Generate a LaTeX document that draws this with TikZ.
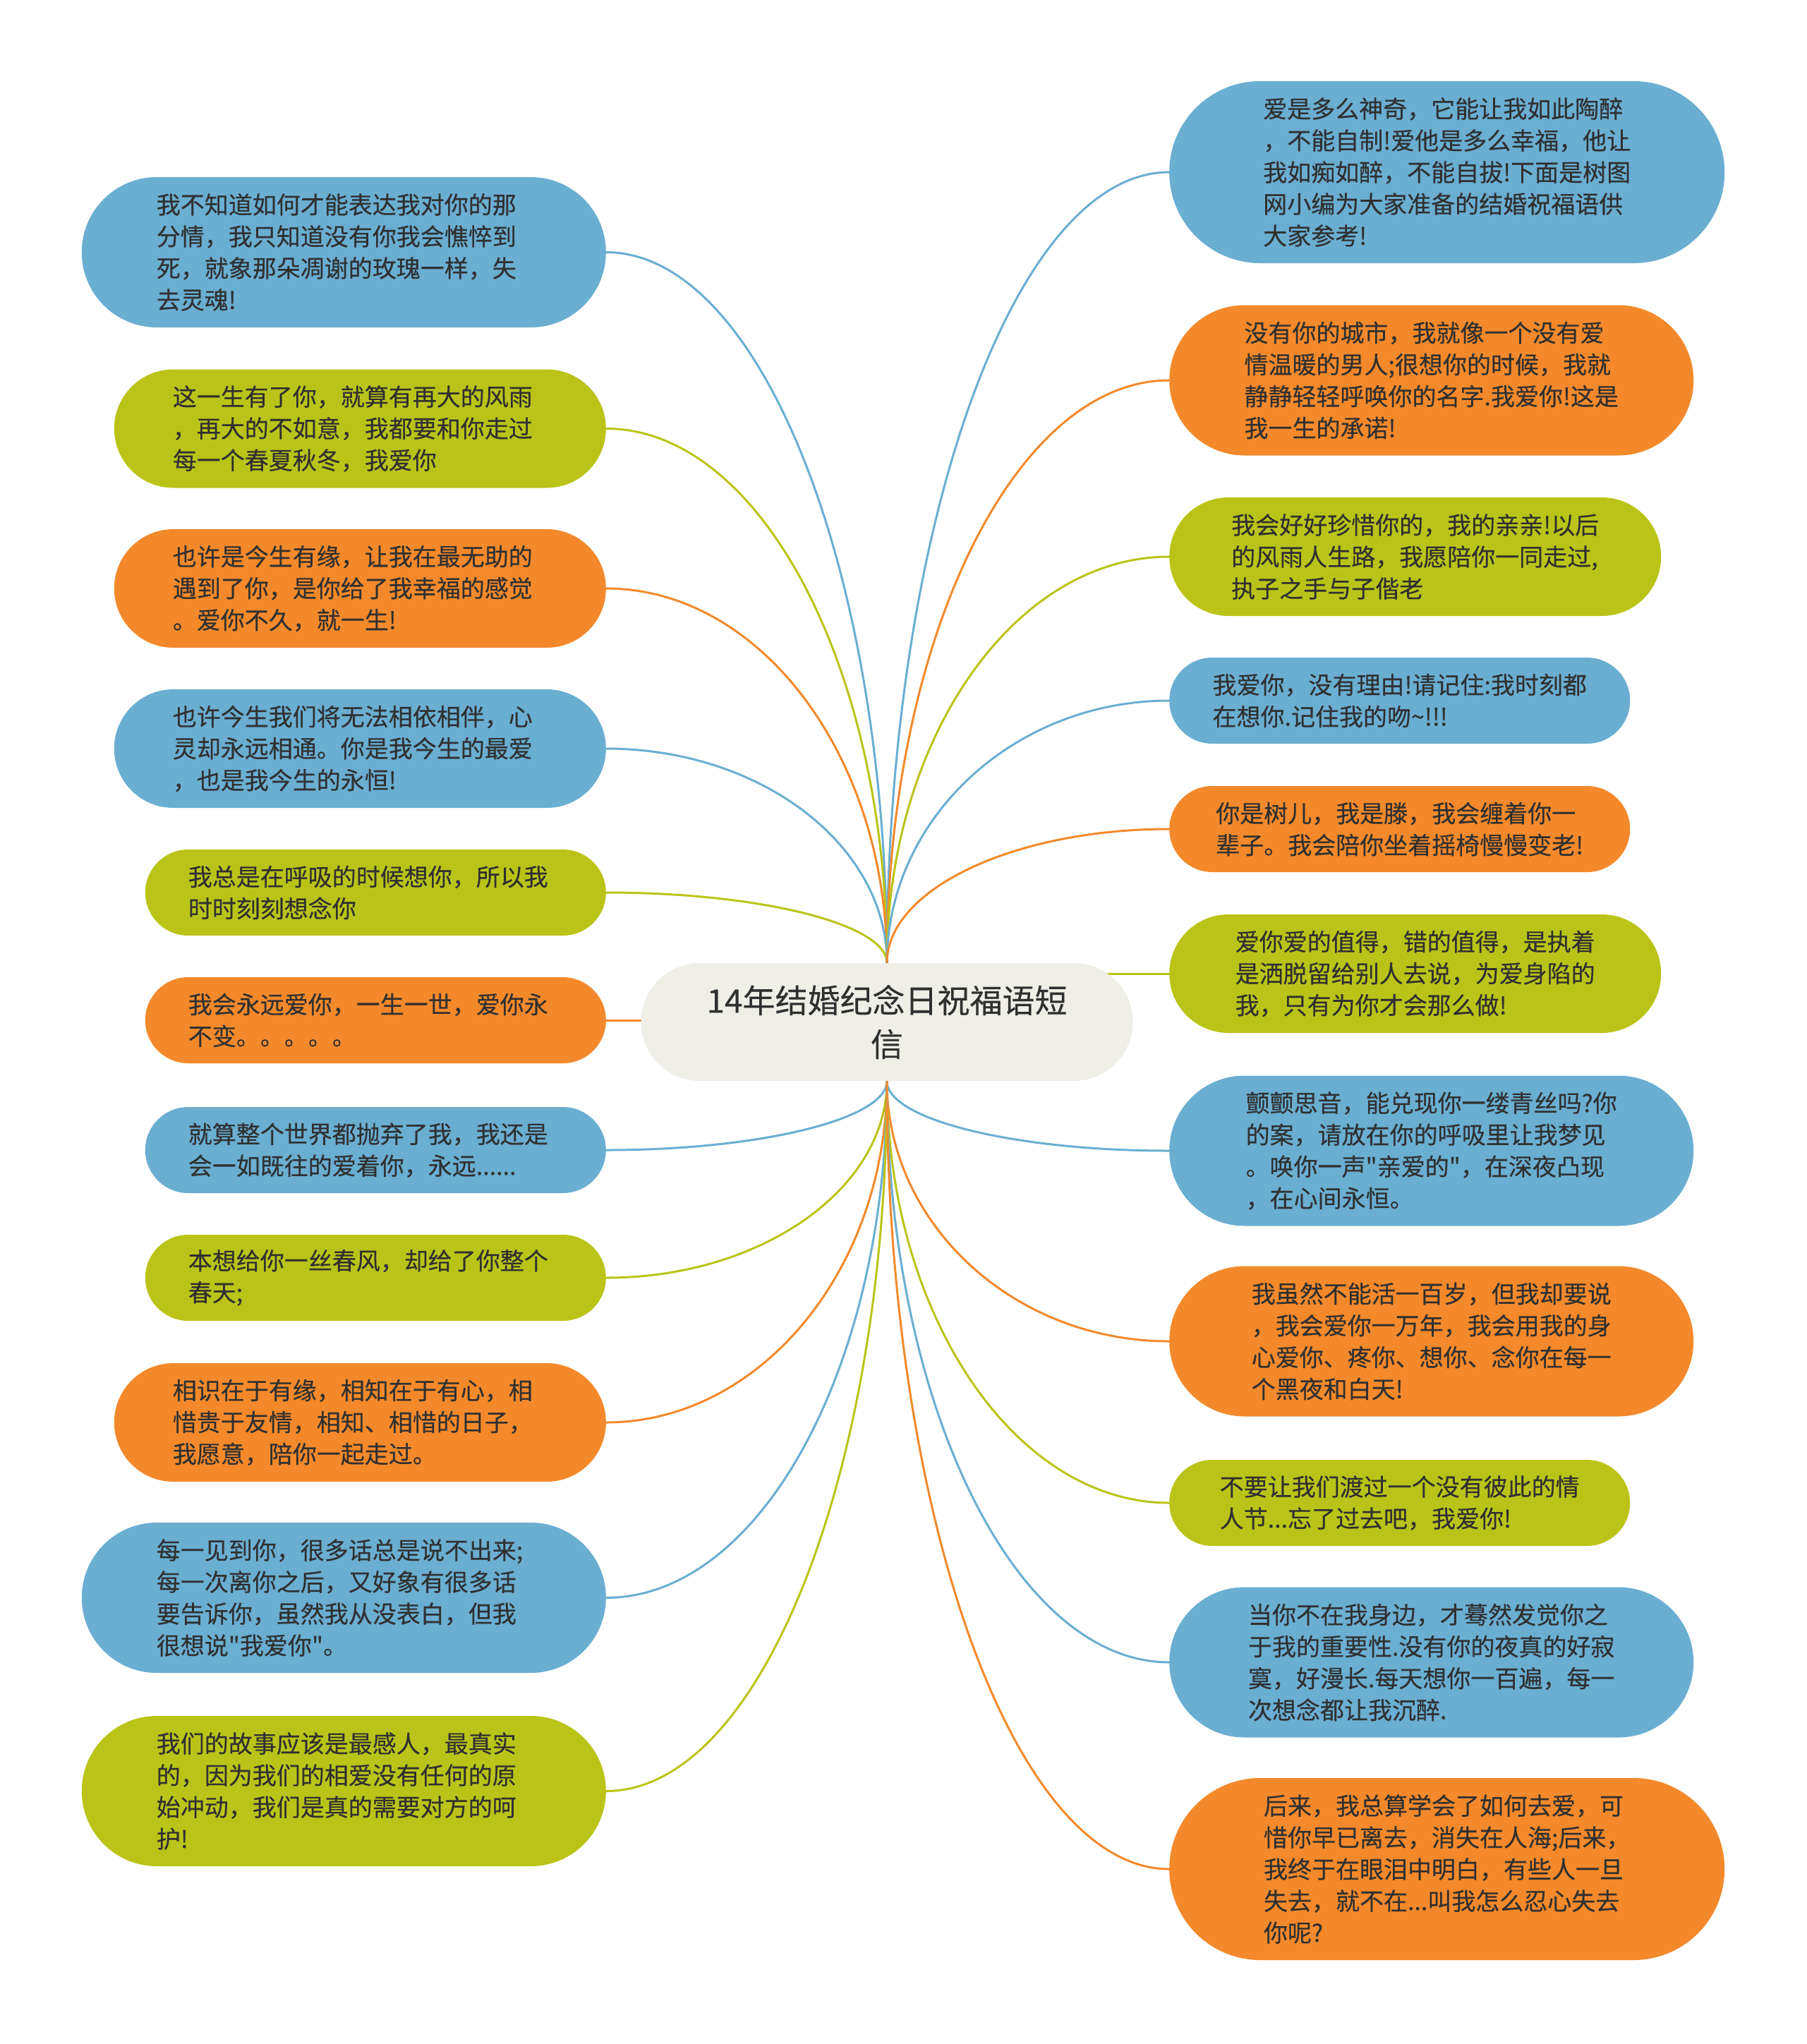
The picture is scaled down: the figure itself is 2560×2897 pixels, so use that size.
\documentclass[tikz,border=0pt]{standalone}
\usepackage{fontspec}
\setmainfont{Noto Sans CJK SC}[Ligatures=TeXOff, FakeBold=0.3]
\usetikzlibrary{shapes.misc,calc}
\definecolor{cblue}{HTML}{6AAED2}
\definecolor{cgreen}{HTML}{BAC418}
\definecolor{corange}{HTML}{F3892B}
\definecolor{ccenter}{HTML}{EFEFE8}
\definecolor{ctext}{HTML}{303030}
\pgfdeclarelayer{bg}
\pgfsetlayers{bg,main}
\begin{document}
\begin{tikzpicture}[x=1pt,y=-1pt,
  bub/.style={rounded rectangle, inner sep=0pt, align=left, text=ctext, font=\fontsize{34}{45}\selectfont},
  bluebub/.style={bub, fill=cblue},
  greenbub/.style={bub, fill=cgreen},
  orangebub/.style={bub, fill=corange},
  s2/.style={minimum width=653pt, minimum height=122pt},
  s3/.style={minimum width=697pt, minimum height=168pt},
  s4/.style={minimum width=743pt, minimum height=213pt},
  s5/.style={minimum width=787pt, minimum height=258pt},
  lnode/.style={anchor=east, text width=531pt},
  rnode/.style={anchor=west},
  link/.style={line width=3pt},
  mmcurve/.style={to path={let \p1=(\tikztostart), \p2=(\tikztotarget),
      \p3=($(\tikztostart)!0.55!(\tikztotarget)$),
      \p4=($(\tikztostart)!0.45!(\tikztotarget)$) in
      .. controls (\x1,\y3) and (\x4,\y2) .. (\tikztotarget)}}
]
\useasboundingbox (0,0) rectangle (2560,2897);

% central topic
\node[rounded rectangle, fill=ccenter, minimum width=697pt, minimum height=167pt,
      inner sep=0pt, align=center, text=ctext, font=\fontsize{46}{62}\selectfont]
      (center) at (1257,1448.5) {14年结婚纪念日祝福语短\\信};

% left column
\node[bluebub,s4,lnode] (L1) at (859,357.5) {我不知道如何才能表达我对你的那\\分情，我只知道没有你我会憔悴到\\死，就象那朵凋谢的玫瑰一样，失\\去灵魂!};
\node[greenbub,s3,lnode] (L2) at (859,607.5) {这一生有了你，就算有再大的风雨\\，再大的不如意，我都要和你走过\\每一个春夏秋冬，我爱你};
\node[orangebub,s3,lnode] (L3) at (859,834) {也许是今生有缘，让我在最无助的\\遇到了你，是你给了我幸福的感觉\\。爱你不久，就一生!};
\node[bluebub,s3,lnode] (L4) at (859,1061) {也许今生我们将无法相依相伴，心\\灵却永远相通。你是我今生的最爱\\，也是我今生的永恒!};
\node[greenbub,s2,lnode] (L5) at (859,1265) {我总是在呼吸的时候想你，所以我\\时时刻刻想念你};
\node[orangebub,s2,lnode] (L6) at (859,1446) {我会永远爱你，一生一世，爱你永\\不变。。。。。};
\node[bluebub,s2,lnode] (L7) at (859,1630) {就算整个世界都抛弃了我，我还是\\会一如既往的爱着你，永远......};
\node[greenbub,s2,lnode] (L8) at (859,1811) {本想给你一丝春风，却给了你整个\\春天;};
\node[orangebub,s3,lnode] (L9) at (859,2016) {相识在于有缘，相知在于有心，相\\惜贵于友情，相知、相惜的日子，\\我愿意，陪你一起走过。};
\node[bluebub,s4,lnode] (L10) at (859,2264.5) {每一见到你，很多话总是说不出来;\\每一次离你之后，又好象有很多话\\要告诉你，虽然我从没表白，但我\\很想说"我爱你"。};
\node[greenbub,s4,lnode] (L11) at (859,2538.5) {我们的故事应该是最感人，最真实\\的，因为我们的相爱没有任何的原\\始冲动，我们是真的需要对方的呵\\护!};

% right column
\node[bluebub,s5,rnode] (R1) at (1657,244) {爱是多么神奇，它能让我如此陶醉\\，不能自制!爱他是多么幸福，他让\\我如痴如醉，不能自拔!下面是树图\\网小编为大家准备的结婚祝福语供\\大家参考!};
\node[orangebub,s4,rnode] (R2) at (1657,539) {没有你的城市，我就像一个没有爱\\情温暖的男人;很想你的时候，我就\\静静轻轻呼唤你的名字.我爱你!这是\\我一生的承诺!};
\node[greenbub,s3,rnode] (R3) at (1657,789) {我会好好珍惜你的，我的亲亲!以后\\的风雨人生路，我愿陪你一同走过,\\执子之手与子偕老};
\node[bluebub,s2,rnode] (R4) at (1657,993) {我爱你，没有理由!请记住:我时刻都\\在想你.记住我的吻\textasciitilde!!!};
\node[orangebub,s2,rnode] (R5) at (1657,1175) {你是树儿，我是滕，我会缠着你一\\辈子。我会陪你坐着摇椅慢慢变老!};
\node[greenbub,s3,rnode] (R6) at (1657,1380) {爱你爱的值得，错的值得，是执着\\是洒脱留给别人去说，为爱身陷的\\我，只有为你才会那么做!};
\node[bluebub,s4,rnode] (R7) at (1657,1631) {颤颤思音，能兑现你一缕青丝吗?你\\的案，请放在你的呼吸里让我梦见\\。唤你一声"亲爱的"，在深夜凸现\\，在心间永恒。};
\node[orangebub,s4,rnode] (R8) at (1657,1901) {我虽然不能活一百岁，但我却要说\\，我会爱你一万年，我会用我的身\\心爱你、疼你、想你、念你在每一\\个黑夜和白天!};
\node[greenbub,s2,rnode] (R9) at (1657,2130) {不要让我们渡过一个没有彼此的情\\人节...忘了过去吧，我爱你!};
\node[bluebub,s4,rnode] (R10) at (1657,2356) {当你不在我身边，才蓦然发觉你之\\于我的重要性.没有你的夜真的好寂\\寞，好漫长.每天想你一百遍，每一\\次想念都让我沉醉.};
\node[orangebub,s5,rnode] (R11) at (1657,2649) {后来，我总算学会了如何去爱，可\\惜你早已离去，消失在人海;后来，\\我终于在眼泪中明白，有些人一旦\\失去，就不在...叫我怎么忍心失去\\你呢?};

\begin{pgfonlayer}{bg}
\fill[white] (0,0) rectangle (2560,2897);
% left connectors
\draw[link,cblue]   (center.north) to[mmcurve] (L1.east);
\draw[link,cgreen]  (center.north) to[mmcurve] (L2.east);
\draw[link,corange] (center.north) to[mmcurve] (L3.east);
\draw[link,cblue]   (center.north) to[mmcurve] (L4.east);
\draw[link,cgreen]  (center.north) to[mmcurve] (L5.east);
\draw[link,corange] (L6.east) -- (L6.east -| center.center);
\draw[link,cblue]   (center.south) to[mmcurve] (L7.east);
\draw[link,cgreen]  (center.south) to[mmcurve] (L8.east);
\draw[link,corange] (center.south) to[mmcurve] (L9.east);
\draw[link,cblue]   (center.south) to[mmcurve] (L10.east);
\draw[link,cgreen]  (center.south) to[mmcurve] (L11.east);
% right connectors
\draw[link,cblue]   (center.north) to[mmcurve] (R1.west);
\draw[link,corange] (center.north) to[mmcurve] (R2.west);
\draw[link,cgreen]  (center.north) to[mmcurve] (R3.west);
\draw[link,cblue]   (center.north) to[mmcurve] (R4.west);
\draw[link,corange] (center.north) to[mmcurve] (R5.west);
\draw[link,cgreen]  (R6.west) -- (R6.west -| center.center);
\draw[link,cblue]   (center.south) to[mmcurve] (R7.west);
\draw[link,corange] (center.south) to[mmcurve] (R8.west);
\draw[link,cgreen]  (center.south) to[mmcurve] (R9.west);
\draw[link,cblue]   (center.south) to[mmcurve] (R10.west);
\draw[link,corange] (center.south) to[mmcurve] (R11.west);
\end{pgfonlayer}
\end{tikzpicture}
\end{document}
